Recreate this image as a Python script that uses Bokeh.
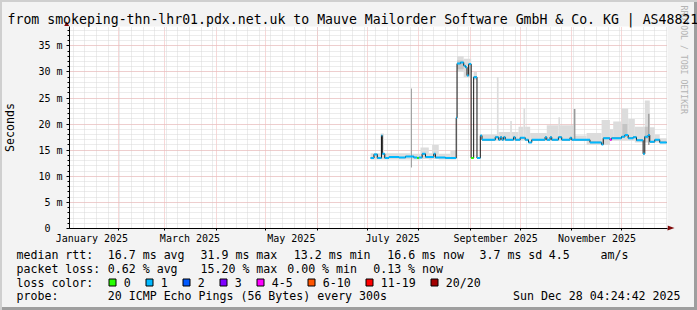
import pandas as pd
from math import pi
from bokeh.plotting import figure
from bokeh.layouts import column
from bokeh.core.properties import value
from bokeh.models import (Range1d, FixedTicker, DatetimeTickFormatter, CustomJSTickFormatter, Title)
from bokeh.embed import file_html
from bokeh.resources import INLINE

# ---------------- data ----------------
# median RTT (ms) as a step series: start of each step, value, loss class index
median_start = [
    "2025-07-03", "2025-07-05", "2025-07-07", "2025-07-09 12:00", "2025-07-10",
    "2025-07-11 12:00", "2025-07-14", "2025-07-20", "2025-07-24", "2025-07-29",
    "2025-07-31", "2025-08-01", "2025-08-03", "2025-08-05", "2025-08-10",
    "2025-08-11", "2025-08-17", "2025-08-23 12:00", "2025-08-24", "2025-08-26",
    "2025-08-28", "2025-08-29", "2025-08-30", "2025-08-31", "2025-09-01 12:00",
    "2025-09-03", "2025-09-05", "2025-09-07", "2025-09-08", "2025-09-16",
    "2025-09-18", "2025-09-19", "2025-09-20", "2025-09-21", "2025-09-22",
    "2025-09-27", "2025-09-28", "2025-10-01", "2025-10-04", "2025-10-06",
    "2025-10-08", "2025-10-16", "2025-10-17", "2025-10-19", "2025-10-20",
    "2025-10-24", "2025-10-26", "2025-10-31", "2025-11-01", "2025-11-12",
    "2025-11-19", "2025-11-20", "2025-11-24", "2025-11-25", "2025-12-01",
    "2025-12-03", "2025-12-05", "2025-12-08", "2025-12-10", "2025-12-14",
    "2025-12-15", "2025-12-17", "2025-12-18", "2025-12-21", "2025-12-24",
]
median_ms = [
    13.5, 14.2, 13.5, 17.8, 14.3,
    13.5, 13.7, 13.6, 13.8, 13.6,
    13.5, 13.6, 14.3, 13.7, 14.3,
    13.6, 13.5, 21.2, 31.6, 31.8,
    31.2, 30.9, 29.3, 31.5, 13.5,
    29.0, 13.5, 17.8, 17.0, 17.5,
    17.0, 17.5, 17.0, 17.5, 17.0,
    17.5, 17.0, 17.4, 17.0, 16.5,
    17.0, 17.5, 17.0, 17.5, 17.0,
    17.5, 17.0, 17.4, 17.0, 16.5,
    16.1, 17.3, 17.0, 17.3, 17.6,
    17.9, 17.3, 17.5, 16.9, 14.3,
    17.6, 17.9, 16.6, 17.0, 16.5,
]
median_loss = [
    1, 1, 1, 1, 1,
    1, 1, 1, 1, 1,
    0, 1, 1, 1, 1,
    1, 1, 1, 1, 1,
    1, 1, 1, 1, 0,
    1, 1, 1, 1, 1,
    1, 1, 1, 1, 1,
    1, 1, 1, 1, 1,
    1, 1, 1, 1, 1,
    1, 1, 1, 1, 1,
    1, 1, 4, 1, 1,
    1, 1, 1, 1, 1,
    1, 1, 1, 1, 1,
]
series_end = "2025-12-28 04:24:42"

# smoke (spread of the pings), light shade
smoke_start = [
    "2025-07-03", "2025-07-09", "2025-07-11", "2025-07-28", "2025-08-02",
    "2025-08-07", "2025-08-09", "2025-08-13", "2025-08-20", "2025-08-24",
    "2025-08-28", "2025-09-03", "2025-09-08", "2025-09-17", "2025-09-18",
    "2025-09-25", "2025-09-26", "2025-09-30", "2025-10-03", "2025-10-04",
    "2025-10-07", "2025-10-17", "2025-10-24", "2025-10-25", "2025-11-03",
    "2025-11-10", "2025-11-19", "2025-11-24", "2025-11-26", "2025-12-01",
    "2025-12-05", "2025-12-09", "2025-12-15", "2025-12-18", "2025-12-21",
    "2025-12-24",
]
smoke_end = [
    "2025-07-09", "2025-07-11", "2025-07-27", "2025-08-02", "2025-08-07",
    "2025-08-09", "2025-08-13", "2025-08-20", "2025-08-23 12:00", "2025-08-28",
    "2025-09-01 12:00", "2025-09-05", "2025-09-17", "2025-09-18", "2025-09-25",
    "2025-09-26", "2025-09-30", "2025-10-03", "2025-10-04", "2025-10-07",
    "2025-10-17", "2025-10-24", "2025-10-25", "2025-11-02", "2025-11-10",
    "2025-11-19", "2025-11-24", "2025-11-26", "2025-12-01", "2025-12-05",
    "2025-12-09", "2025-12-15", "2025-12-18", "2025-12-21", "2025-12-24",
    "2025-12-28 04:24:42",
]
smoke_lo = [
    13.2, 13.2, 13.2, 13.2, 13.3,
    13.2, 13.3, 13.2, 13.2, 30.0,
    29.0, 28.5, 16.8, 16.8, 16.8,
    16.8, 16.8, 16.8, 16.8, 16.8,
    16.8, 16.8, 16.8, 16.8, 16.8,
    16.0, 16.0, 16.8, 16.8, 16.8,
    16.8, 16.5, 16.5, 16.5, 16.5,
    16.3,
]
smoke_hi = [
    14.4, 18.2, 14.4, 14.3, 15.5,
    14.4, 16.0, 14.3, 15.0, 33.0,
    32.5, 30.0, 18.0, 29.0, 18.5,
    20.6, 18.5, 19.5, 23.0, 19.5,
    18.3, 19.8, 21.3, 19.8, 17.8,
    18.3, 20.8, 19.0, 20.5, 23.0,
    21.0, 19.5, 24.5, 19.4, 18.0,
    17.3,
]
# darker smoke spikes
dark_start = ["2025-07-27 06:00", "2025-11-02 06:00", "2025-12-17 00:00"]
dark_end = ["2025-07-27 20:00", "2025-11-03 06:00", "2025-12-17 20:00"]
dark_lo = [11.7, 17.0, 16.0]
dark_hi = [26.8, 22.9, 22.0]
# mid-grey core of the densest smoke
mid_start = ["2025-08-24", "2025-12-01 12:00", "2025-12-15"]
mid_end = ["2025-08-28", "2025-12-04 12:00", "2025-12-17"]
mid_lo = [30.5, 17.6, 17.2]
mid_hi = [32.2, 20.0, 19.5]

# axis tick labels
y_ticks = [0, 5, 10, 15, 20, 25, 30, 35]
y_tick_labels = ["0\u00a0\u00a0", "5 m", "10 m", "15 m", "20 m", "25 m", "30 m", "35 m"]
month_label_dates = ["2025-01-16 06:00", "2025-03-16 06:00", "2025-05-16 06:00",
                     "2025-07-16 06:00", "2025-09-16 06:00", "2025-11-16 06:00"]
month_labels = ["January 2025", "March 2025", "May 2025", "July 2025",
                "September 2025", "November 2025"]

# legend / statistics texts
title_text = "from smokeping-thn-lhr01.pdx.net.uk to Mauve Mailorder Software GmbH & Co. KG | AS48821"
rtt_texts = ["median rtt:", "16.7 ms avg", "31.9 ms max", "13.2 ms min", "16.6 ms now",
             "3.7 ms sd", "4.5", "am/s"]
loss_texts = ["packet loss:", "0.62 % avg", "15.20 % max", "0.00 % min", "0.13 % now"]
loss_labels = ["0", "1", "2", "3", "4-5", "6-10", "11-19", "20/20"]
loss_colors = ["#26ff00", "#00b8ff", "#0059ff", "#7e00ff", "#ff00ff", "#ff5500", "#ff0000", "#a10000"]
probe_texts = ["probe:", "20 ICMP Echo Pings (56 Bytes) every 300s"]
stamp_text = "Sun Dec 28 04:24:42 2025"


def dt(seq):
    return [pd.Timestamp(s) for s in seq]


def ms(ts):
    return int(pd.Timestamp(ts).value // 10**6)


# ---------------- layout constants ----------------
W, H = 697, 310
MAIN_H = 246
FL, FR, FT, FB = 67, 667, 26, 228     # frame edges in canvas pixels
MONO = "DejaVu Sans Mono"
ARROW = "%237f0a0a"

# ---------------- main graph ----------------
p = figure(width=W, height=MAIN_H, x_axis_type="datetime", title=title_text,
           x_range=Range1d(pd.Timestamp("2025-01-02 17:45"), pd.Timestamp("2025-12-28 16:05")),
           y_range=Range1d(0, 38.7),
           output_backend="svg", toolbar_location=None,
           min_border_left=FL, min_border_right=W - FR, min_border_top=FT,
           min_border_bottom=MAIN_H - FB,
           background_fill_color="white", border_fill_alpha=0.0)
p.outline_line_color = None
p.frame_align = False

p.title.align = "left"
p.title.offset = 5 - FL
p.title.standoff = 0
p.title.vertical_align = "bottom"
p.title.text_font = MONO
p.title.text_font_size = "13.2px"
p.title.text_font_style = "normal"
p.title.text_color = "black"

p.add_layout(Title(text="RRDTOOL / TOBI OETIKER", align="left", offset=5 - FT,
                   vertical_align="top", standoff=18, text_font=MONO, text_font_size="8.2px",
                   text_font_style="normal", text_color="#b3b3b3"), "right")

month_starts = [ms(t) for t in pd.date_range("2025-02-01", "2025-12-01", freq="MS")]
sundays = [ms(t) for t in pd.date_range("2025-01-05", "2025-12-28", freq="W-SUN")]
label_ms = [ms(t) for t in month_label_dates]

# grids
p.xgrid.ticker = FixedTicker(ticks=month_starts, minor_ticks=sundays)
p.ygrid.ticker = FixedTicker(ticks=y_ticks, minor_ticks=list(range(0, 39)))
for g in (p.xgrid[0], p.ygrid[0]):
    g.grid_line_color = "#f0b0b0"
    g.grid_line_dash = "1 1"
    g.minor_grid_line_color = "#d9d9d9"
    g.minor_grid_line_dash = "1 1"

# x axis
xa = p.xaxis[0]
xa.ticker = FixedTicker(ticks=label_ms, minor_ticks=month_starts)
fmt = "%B %Y"
xa.formatter = DatetimeTickFormatter(microseconds=fmt, milliseconds=fmt, seconds=fmt, minsec=fmt,
                                     minutes=fmt, hourmin=fmt, hours=fmt, days=fmt, months=fmt, years=fmt)
xa.major_label_overrides = {k: v for k, v in zip(label_ms, month_labels)}
xa.major_tick_line_color = None
xa.major_tick_out = 0
xa.major_tick_in = 0
xa.minor_tick_out = 2
xa.minor_tick_in = 0
xa.minor_tick_line_color = "black"
xa.axis_line_color = "black"
xa.major_label_text_font = MONO
xa.major_label_text_font_size = "10px"
xa.major_label_text_color = "black"
xa.major_label_standoff = 2

# y axis
ya = p.yaxis[0]
ya.ticker = FixedTicker(ticks=y_ticks, minor_ticks=list(range(0, 39)))
ya.formatter = CustomJSTickFormatter(args=dict(t=y_ticks, l=y_tick_labels),
                                     code="const i = t.indexOf(tick); return i >= 0 ? l[i] : '';")
ya.major_tick_out = 3
ya.major_tick_in = 0
ya.minor_tick_out = 2
ya.minor_tick_in = 0
ya.minor_tick_line_color = "black"
ya.major_tick_line_color = "black"
ya.axis_line_color = "black"
ya.major_label_text_font = MONO
ya.major_label_text_font_size = "10px"
ya.major_label_text_color = "black"
ya.major_label_standoff = 4
ya.axis_label = "Seconds"
ya.axis_label_text_font = MONO
ya.axis_label_text_font_size = "11.6px"
ya.axis_label_text_font_style = "normal"
ya.axis_label_text_color = "black"
ya.axis_label_standoff = 18

# smoke
p.quad(left=dt(smoke_start), right=dt(smoke_end),
       bottom=smoke_lo, top=smoke_hi, fill_color="#dcdcdc", line_color=None)
p.quad(left=dt(mid_start), right=dt(mid_end),
       bottom=mid_lo, top=mid_hi, fill_color="#c4c4c4", line_color=None)
p.quad(left=dt(dark_start), right=dt(dark_end),
       bottom=dark_lo, top=dark_hi, fill_color="#9a9a9a", line_color=None)

# median line: black steps, coloured by loss on the flat parts
mx = dt(median_start)
mend = pd.Timestamp(series_end)
p.step(x=mx + [mend], y=median_ms + [median_ms[-1]], mode="after",
       line_color="#141414", line_width=1)
p.segment(x0=mx, x1=mx[1:] + [mend], y0=median_ms, y1=median_ms,
          line_color=[loss_colors[i] for i in median_loss], line_width=2)

# ---------------- legend strip (pixel coordinates of the lower strip) ----------------
q = figure(width=W, height=H - MAIN_H, x_range=Range1d(0, W), y_range=Range1d(H, MAIN_H),
           output_backend="svg", toolbar_location=None,
           x_axis_location=None, y_axis_location=None,
           min_border=0, min_border_left=0, min_border_right=0, min_border_top=0, min_border_bottom=0,
           background_fill_alpha=0.0, border_fill_alpha=0.0)
q.outline_line_color = None
q.frame_align = False
q.xgrid.visible = False
q.ygrid.visible = False

ROWS = [254.3, 268.3, 282.3, 295.7]
tx, ty, tt = [], [], []
for t, X in zip(rtt_texts, [16, 107.3, 200, 293.3, 386.7, 479, 548.3, 600]):
    tx.append(X); ty.append(ROWS[0]); tt.append(t)
for t, X in zip(loss_texts, [16, 107.3, 200, 286.7, 372.7]):
    tx.append(X); ty.append(ROWS[1]); tt.append(t)
tx.append(16); ty.append(ROWS[2]); tt.append("loss color:")
box_left = []
bx = 108.5
for lab in loss_labels:
    box_left.append(bx)
    tx.append(bx + 14.8); ty.append(ROWS[2]); tt.append(lab)
    bx += 30 + 7 * len(lab)
for t, X in zip(probe_texts, [16, 107.3]):
    tx.append(X); ty.append(ROWS[3]); tt.append(t)

q.text(x=tx, y=ty, text=tt, text_font=value(MONO), text_font_size=value("11.6px"),
       text_baseline="middle", text_align="left", text_color="black")
q.text(x=[680], y=[ROWS[3]], text=[stamp_text], text_font=value(MONO),
       text_font_size=value("11.6px"), text_baseline="middle", text_align="right",
       text_color="black")
q.quad(left=box_left, right=[b + 7 for b in box_left], top=[278.5] * len(box_left),
       bottom=[285.5] * len(box_left), fill_color=loss_colors, line_color="black", line_width=1)

arrows_svg = ("url(\"data:image/svg+xml;utf8,<svg xmlns='http://www.w3.org/2000/svg' width='697' height='310'>"
              "<polygon points='64.2,26 69.2,26 66.7,21.5' fill='" + ARROW + "'/>"
              "<polygon points='667.5,225.5 667.5,230.5 674.5,228' fill='" + ARROW + "'/>"
              "</svg>\")")
layout = column(p, q, spacing=0,
                styles={"background-color": "#f3f3f3",
                        "background-image": arrows_svg,
                        "background-repeat": "no-repeat",
                        "box-shadow": "inset 2px 2px 0 #cfcfcf, inset -3px -3px 0 #9e9e9e"})

open("out.html", "w").write(file_html(layout, INLINE))
